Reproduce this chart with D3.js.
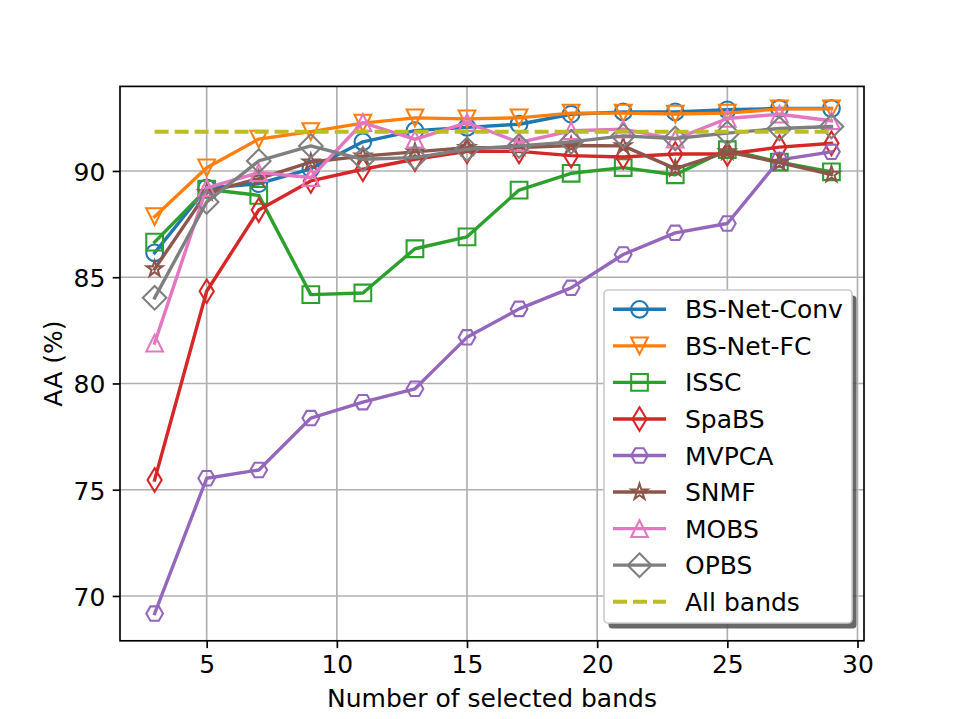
<!DOCTYPE html>
<html lang="en">
<head>
    <title>AA vs number of selected bands</title>
    <meta charset="UTF-8">
    <script src="https://cdn.jsdelivr.net/npm/d3@7"></script>
    <style>
        body { margin: 0; background: #fff; }
        text { font-family: "DejaVu Sans", sans-serif; fill: #000; }
    </style>
</head>
<body>
<div id="chart"></div>

<script type="text/javascript">

  // values
  const bands      = [3, 5, 7, 9, 11, 13, 15, 17, 19, 21, 23, 25, 27, 29];
  const bsNetConv  = [86.15, 89.2, 89.4, 90.1, 91.37, 91.9, 92.05, 92.2, 92.67, 92.78, 92.78, 92.88, 92.94, 92.94];
  const bsNetFC    = [87.85, 90.15, 91.5, 91.85, 92.25, 92.5, 92.45, 92.5, 92.72, 92.72, 92.68, 92.72, 92.92, 92.92];
  const issc       = [86.65, 89.14, 88.85, 84.18, 84.26, 86.34, 86.9, 89.1, 89.89, 90.16, 89.82, 91.0, 90.42, 89.96];
  const spabs      = [75.46, 84.34, 88.16, 89.53, 90.08, 90.55, 90.92, 90.92, 90.72, 90.66, 90.8, 90.8, 91.12, 91.3];
  const mvpca      = [69.17, 75.54, 75.93, 78.37, 79.12, 79.75, 82.17, 83.51, 84.5, 86.07, 87.09, 87.53, 90.52, 90.9];
  const snmf       = [85.39, 88.98, 89.64, 90.42, 90.7, 90.9, 91.1, 91.1, 91.2, 91.18, 90.11, 90.9, 90.4, 89.84];
  const mobs       = [81.9, 89.21, 89.92, 89.69, 92.28, 91.49, 92.28, 91.34, 91.89, 91.97, 91.5, 92.47, 92.67, 92.36];
  const opbs       = [84.03, 88.54, 90.47, 91.18, 90.55, 90.63, 91.02, 91.18, 91.37, 91.65, 91.53, 91.78, 92.0, 92.09];
  const allBandsAA = 91.85;

  const xTicks = [5, 10, 15, 20, 25, 30];
  const yTicks = [70, 75, 80, 85, 90];

  const series = [
      {name: 'BS-Net-Conv', values: bsNetConv, color: '#1f77b4', marker: 'circle'},
      {name: 'BS-Net-FC',   values: bsNetFC,   color: '#ff7f0e', marker: 'triDown'},
      {name: 'ISSC',        values: issc,      color: '#2ca02c', marker: 'square'},
      {name: 'SpaBS',       values: spabs,     color: '#d62728', marker: 'thinDiamond'},
      {name: 'MVPCA',       values: mvpca,     color: '#9467bd', marker: 'hexagon'},
      {name: 'SNMF',        values: snmf,      color: '#8c564b', marker: 'star'},
      {name: 'MOBS',        values: mobs,      color: '#e377c2', marker: 'triUp'},
      {name: 'OPBS',        values: opbs,      color: '#7f7f7f', marker: 'diamond'}
  ];
  const allBandsColor = '#bcbd22';

  const width = 961, height = 719;
  const plot = {left: 120, right: 864, top: 86.4, bottom: 640.8};
  const lineW = 3.4, edgeW = 2.08, ms = 16.67;

  const x = d3.scaleLinear().domain([1.67, 30.25]).range([plot.left, plot.right]);
  const y = d3.scaleLinear().domain([67.89, 93.98]).range([plot.bottom, plot.top]);

  // marker outlines, centred on 0,0 (matplotlib shapes)
  function markerPath(kind) {
      const h = ms / 2;
      const poly = pts => 'M' + pts.map(p => p[0].toFixed(2) + ',' + p[1].toFixed(2)).join('L') + 'Z';
      switch (kind) {
          case 'circle':
              return `M${h},0A${h},${h} 0 1,1 ${-h},0A${h},${h} 0 1,1 ${h},0Z`;
          case 'triDown':
              return poly([[0, h], [-h, -h], [h, -h]]);
          case 'triUp':
              return poly([[0, -h], [-h, h], [h, h]]);
          case 'square':
              return poly([[-h, -h], [h, -h], [h, h], [-h, h]]);
          case 'diamond': {
              const d = ms * Math.SQRT1_2;
              return poly([[0, -d], [d, 0], [0, d], [-d, 0]]);
          }
          case 'thinDiamond': {
              const d = ms * Math.SQRT1_2;
              return poly([[0, -d], [d * 0.6, 0], [0, d], [-d * 0.6, 0]]);
          }
          case 'hexagon':
              return poly(d3.range(6).map(i => [h * Math.cos(i * Math.PI / 3), h * Math.sin(i * Math.PI / 3)]));
          case 'star': {
              const pts = [];
              for (let i = 0; i < 10; i++) {
                  const r = i % 2 ? h * 0.381966 : h;
                  const a = -Math.PI / 2 + i * Math.PI / 5;
                  pts.push([r * Math.cos(a), r * Math.sin(a)]);
              }
              return poly(pts);
          }
      }
  }

  const svg = d3.select('#chart').append('svg')
      .attr('width', width)
      .attr('height', height);

  svg.append('rect').attr('width', width).attr('height', height).attr('fill', '#fff');

  // grid
  const grid = svg.append('g').attr('stroke', '#b0b0b0').attr('stroke-width', 1.67);
  grid.selectAll('line.gx').data(xTicks).join('line')
      .attr('class', 'gx')
      .attr('x1', d => x(d)).attr('x2', d => x(d))
      .attr('y1', plot.top).attr('y2', plot.bottom);
  grid.selectAll('line.gy').data(yTicks).join('line')
      .attr('class', 'gy')
      .attr('x1', plot.left).attr('x2', plot.right)
      .attr('y1', d => y(d)).attr('y2', d => y(d));

  // series
  const line = d3.line().x(d => x(d[0])).y(d => y(d[1]));
  series.forEach(s => {
      const pts = bands.map((b, i) => [b, s.values[i]]);
      const g = svg.append('g');
      g.append('path')
          .attr('d', line(pts))
          .attr('fill', 'none')
          .attr('stroke', s.color)
          .attr('stroke-width', lineW)
          .attr('stroke-linejoin', 'round')
          .attr('stroke-linecap', 'square');
      g.selectAll('path.mk').data(pts).join('path')
          .attr('class', 'mk')
          .attr('transform', d => `translate(${x(d[0])},${y(d[1])})`)
          .attr('d', markerPath(s.marker))
          .attr('fill', 'none')
          .attr('stroke', s.color)
          .attr('stroke-width', edgeW);
  });

  // all bands reference
  svg.append('line')
      .attr('x1', x(bands[0])).attr('x2', x(bands[bands.length - 1]))
      .attr('y1', y(allBandsAA)).attr('y2', y(allBandsAA))
      .attr('stroke', allBandsColor)
      .attr('stroke-width', 4)
      .attr('stroke-dasharray', '14,6');

  // axes
  const xAxis = svg.append('g')
      .attr('transform', `translate(0,${plot.bottom})`)
      .call(d3.axisBottom(x).tickValues(xTicks).tickSizeOuter(0).tickSize(7.3).tickPadding(7.3).tickFormat(d3.format('d')));
  const yAxis = svg.append('g')
      .attr('transform', `translate(${plot.left},0)`)
      .call(d3.axisLeft(y).tickValues(yTicks).tickSizeOuter(0).tickSize(7.3).tickPadding(7.3).tickFormat(d3.format('d')));
  [xAxis, yAxis].forEach(a => {
      a.select('.domain').remove();
      a.selectAll('.tick line').attr('stroke', '#000').attr('stroke-width', 1.67);
      a.selectAll('.tick text')
          .attr('font-size', 25)
          .attr('font-family', '"DejaVu Sans", sans-serif')
          .attr('fill', '#000');
  });
  xAxis.selectAll('.tick text').attr('dy', null).attr('y', 32.2);
  yAxis.selectAll('.tick text').attr('dy', null).attr('y', 9.3);

  svg.append('rect')
      .attr('x', plot.left).attr('y', plot.top)
      .attr('width', plot.right - plot.left).attr('height', plot.bottom - plot.top)
      .attr('fill', 'none').attr('stroke', '#000').attr('stroke-width', 1.67);

  svg.append('text')
      .attr('x', (plot.left + plot.right) / 2).attr('y', 707)
      .attr('text-anchor', 'middle').attr('font-size', 25)
      .text('Number of selected bands');
  svg.append('text')
      .attr('transform', `translate(62,${(plot.top + plot.bottom) / 2}) rotate(-90)`)
      .attr('text-anchor', 'middle').attr('font-size', 25)
      .text('AA (%)');

  // legend
  const leg = {x: 604, y: 290, w: 248, h: 333};
  const lg = svg.append('g');
  lg.append('rect')
      .attr('x', leg.x + 4.5).attr('y', leg.y + 5.5)
      .attr('width', leg.w).attr('height', leg.h).attr('rx', 4)
      .attr('fill', '#4d4d4d').attr('opacity', 0.85);
  lg.append('rect')
      .attr('x', leg.x).attr('y', leg.y)
      .attr('width', leg.w).attr('height', leg.h).attr('rx', 4)
      .attr('fill', '#fff').attr('stroke', '#cccccc').attr('stroke-width', 1.67);

  const legendItems = series.map(s => s.name).concat(['All bands']);
  const rowY = i => 309.3 + i * 36.55;
  legendItems.forEach((name, i) => {
      const s = series[i];
      const ry = rowY(i);
      const hl = lg.append('line')
          .attr('x1', 613).attr('x2', 666)
          .attr('y1', ry).attr('y2', ry);
      if (s) {
          hl.attr('stroke', s.color).attr('stroke-width', lineW);
          lg.append('path')
              .attr('transform', `translate(639.5,${ry})`)
              .attr('d', markerPath(s.marker))
              .attr('fill', 'none')
              .attr('stroke', s.color)
              .attr('stroke-width', edgeW);
      } else {
          hl.attr('stroke', allBandsColor).attr('stroke-width', 4).attr('stroke-dasharray', '14,6');
      }
      lg.append('text')
          .attr('x', 685).attr('y', ry + 9)
          .attr('font-size', 25)
          .text(name);
  });

</script>
</body>
</html>
